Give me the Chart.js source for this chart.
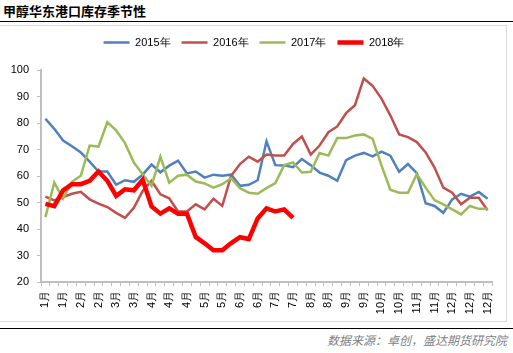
<!DOCTYPE html>
<html>
<head>
<meta charset="utf-8">
<script src="https://cdn.jsdelivr.net/npm/chart.js@4.4.1/dist/chart.umd.min.js"></script>
<style>
    body {
        margin: 0;
        width: 513px;
        height: 353px;
        background: #fff;
        position: relative;
        overflow: hidden;
        font-family: 'Liberation Sans', Arial, 'Noto Sans CJK SC', sans-serif;
    }
    #title {
        position: absolute;
        left: 3px;
        top: 2px;
        font-family: 'Noto Sans CJK SC', sans-serif;
        font-size: 13px;
        font-weight: bold;
        line-height: 18px;
        color: #000;
    }
    .rule {
        position: absolute;
        left: 0;
        width: 513px;
        border-top: 1.5px solid #000;
    }
    #box {
        position: absolute;
        left: 0;
        top: 25px;
        width: 506px;
        height: 295px;
        border: 1px solid #d9d9d9;
        border-left: none;
    }
    #source {
        position: absolute;
        right: 6px;
        top: 331px;
        font-family: 'Noto Sans CJK SC', sans-serif;
        font-size: 12px;
        font-style: italic;
        color: #7f7f7f;
    }
</style>
</head>
<body>
<div id="title">甲醇华东港口库存季节性</div>
<div class="rule" style="top:21px"></div>
<div id="box"><canvas id="seasonChart"></canvas></div>
<div class="rule" style="top:328px"></div>
<div id="source">数据来源：卓创，盛达期货研究院</div>

<script>
// week-by-week month labels (only every second one is shown)
const weekMonths = [
    '1月', '1月', '1月', '1月', '2月', '2月', '2月', '2月', '3月', '3月',
    '3月', '3月', '4月', '4月', '4月', '4月', '4月', '5月', '5月', '5月',
    '5月', '6月', '6月', '6月', '6月', '7月', '7月', '7月', '7月', '8月',
    '8月', '8月', '8月', '9月', '9月', '9月', '9月', '10月', '10月', '10月',
    '10月', '11月', '11月', '11月', '11月', '12月', '12月', '12月', '12月', '12月',
    '12月'
];

const seriesNames = ['2015年', '2016年', '2017年', '2018年'];

const stock2015 = [
    81.6, 77.8, 73.4, 71.2, 68.9, 65.4, 61.7, 61.7, 56.7, 58.4,
    57.8, 60.5, 64.3, 61.4, 63.9, 65.8, 61.0, 61.7, 59.4, 60.5,
    60.1, 60.5, 56.3, 56.7, 58.4, 73.1, 64.1, 64.0, 63.3, 66.4,
    64.1, 61.3, 60.1, 58.2, 66.0, 67.7, 68.7, 67.4, 69.2, 67.7,
    61.6, 64.5, 61.1, 49.7, 48.7, 46.1, 51.2, 53.3, 52.2, 54.0,
    51.4
];

const stock2016 = [
    52.2, 50.8, 52.0, 53.3, 54.0, 51.2, 49.6, 48.3, 46.1, 44.2,
    48.0, 54.4, 58.2, 53.1, 51.6, 46.6, 46.6, 49.3, 47.4, 51.4,
    48.7, 60.1, 64.5, 67.3, 65.4, 68.1, 67.7, 67.7, 72.1, 74.9,
    68.1, 71.5, 76.5, 78.7, 83.7, 86.7, 96.8, 94.0, 89.2, 82.9,
    75.7, 74.7, 72.8, 68.9, 63.2, 55.6, 53.7, 49.3, 51.8, 51.8,
    47.1
];

const stock2017 = [
    44.5, 57.5, 51.5, 57.8, 60.1, 71.5, 71.1, 80.3, 77.2, 72.4,
    65.1, 60.7, 56.3, 67.3, 57.5, 60.1, 60.5, 57.9, 57.2, 55.6,
    56.9, 59.2, 55.4, 53.7, 53.3, 55.4, 57.3, 64.1, 65.1, 61.3,
    61.6, 68.7, 67.7, 74.3, 74.3, 75.3, 75.7, 74.0, 64.0, 54.8,
    53.7, 53.7, 60.7, 55.6, 50.9, 49.3, 47.4, 45.5, 48.7, 47.6,
    47.6
];

const stock2018 = [
    49.5, 48.6, 54.6, 56.9, 56.9, 58.2, 61.7, 58.2, 52.5, 55.0,
    54.6, 58.6, 48.5, 45.8, 47.8, 45.8, 45.8, 37.0, 34.6, 32.0,
    32.0, 34.7, 36.9, 36.2, 44.0, 47.8, 46.6, 47.4, 44.2
];

const yMin = 20;
const yMax = 100;
const yStep = 10;

const axisColor = '#bfbfbf';
const tickFont = { size: 11, family: 'Liberation Sans' };

// extra room under the legend and centre it on the page, like the excel chart
const legendGap = {
    id: 'legendGap',
    beforeInit(chart) {
        const fit = chart.legend.fit;
        chart.legend.fit = function () {
            fit.bind(chart.legend)();
            this.height += 12;
        };
    },
    afterLayout(chart) {
        chart.legend.left += 16;
    }
};

const seasonCtx = document.getElementById('seasonChart').getContext('2d');
const seasonChart = new Chart(seasonCtx, {
    type: 'line',
    data: {
        labels: weekMonths,
        datasets: [{
            label: seriesNames[0],
            data: stock2015,
            borderColor: '#4f81bd',
            backgroundColor: '#4f81bd',
            borderWidth: 2.5,
            order: 3
        },
        {
            label: seriesNames[1],
            data: stock2016,
            borderColor: '#c0504d',
            backgroundColor: '#c0504d',
            borderWidth: 2.5,
            order: 2
        },
        {
            label: seriesNames[2],
            data: stock2017,
            borderColor: '#9bbb59',
            backgroundColor: '#9bbb59',
            borderWidth: 2.5,
            order: 1
        },
        {
            label: seriesNames[3],
            data: stock2018,
            borderColor: '#ff0000',
            backgroundColor: '#ff0000',
            borderWidth: 4.5,
            order: 0
        }]
    },
    options: {
        responsive: true,
        maintainAspectRatio: false,
        animation: false,
        layout: {
            padding: { top: 0, right: 14, bottom: 0, left: 0 }
        },
        elements: {
            point: { radius: 0 },
            line: { tension: 0 }
        },
        scales: {
            x: {
                offset: true,
                grid: {
                    drawOnChartArea: false,
                    offset: true,
                    tickLength: 4,
                    color: axisColor
                },
                border: { color: axisColor, width: 2 },
                ticks: {
                    autoSkip: false,
                    maxRotation: 90,
                    minRotation: 90,
                    padding: 5,
                    color: '#000',
                    font: tickFont,
                    callback: (value, index) => index % 2 === 0 ? weekMonths[index] : ''
                },
                afterFit: scale => { scale.height = 39; }
            },
            y: {
                min: yMin,
                max: yMax,
                ticks: {
                    stepSize: yStep,
                    padding: 8,
                    color: '#000',
                    font: tickFont
                },
                grid: {
                    drawOnChartArea: false,
                    tickLength: 4,
                    color: axisColor
                },
                border: { color: axisColor, width: 2 },
                afterFit: scale => { scale.width = 41; }
            }
        },
        plugins: {
            legend: {
                display: true,
                position: 'top',
                labels: {
                    usePointStyle: true,
                    pointStyle: 'line',
                    pointStyleWidth: 26,
                    padding: 11,
                    color: '#000',
                    font: { size: 11, family: 'Liberation Sans' },
                    sort: (a, b) => a.datasetIndex - b.datasetIndex
                }
            },
            tooltip: { enabled: false }
        }
    },
    plugins: [legendGap]
});
</script>
</body>
</html>
